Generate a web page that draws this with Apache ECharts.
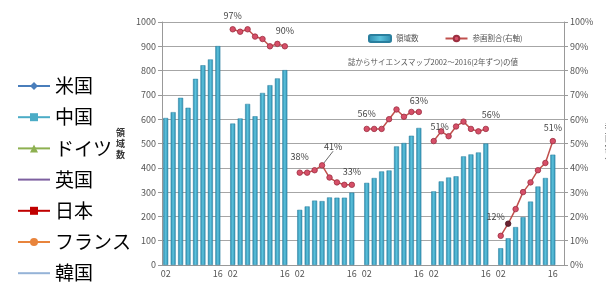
<!DOCTYPE html>
<html>
<head>
<meta charset="utf-8">
<script src="https://cdn.jsdelivr.net/npm/echarts@6/dist/echarts.min.js"></script>
<style>
    html, body { margin: 0; padding: 0; background: #fff; }
    #chart { width: 606px; height: 282px; }
</style>
</head>
<body>
<div id="chart"></div>
<script>
// 年 (2年ずつ)
const years = ['02', '04', '06', '08', '10', '12', '14', '16']

// 領域数 (各グループ)
const cnt1 = [605, 629, 688, 647, 766, 822, 846, 901]
const cnt2 = [582, 603, 663, 612, 708, 740, 768, 802]
const cnt3 = [227, 241, 265, 263, 278, 277, 277, 298]
const cnt4 = [338, 358, 385, 389, 488, 502, 532, 564]
const cnt5 = [303, 344, 360, 365, 447, 455, 463, 500]
const cnt6 = [69, 110, 156, 197, 261, 323, 358, 454]

// 参画割合 (%) 右軸
const pct1 = [null, null, null, null, null, null, null, null]
const pct2 = [97, 96, 97, 94, 93, 90, 91, 90]
const pct3 = [38, 38, 39, 41, 36, 34, 33, 33]
const pct4 = [56, 56, 56, 60, 64, 61, 63, 63]
const pct5 = [51, 55, 53, 57, 59, 56, 55, 56]
const pct6 = [12, 17, 23, 30, 34, 39, 42, 51]

const countries = ['米国', '中国', 'ドイツ', '英国', '日本', 'フランス', '韓国']
const countryColors = ['#4a7ebb', '#4bacc6', '#8db050', '#7d60a0', '#c00000', '#e8843c', '#95b3d7']

const cntGroups = [cnt1, cnt2, cnt3, cnt4, cnt5, cnt6]
const pctGroups = [pct1, pct2, pct3, pct4, pct5, pct6]

// 54 スロット (8本 + 空き1)
const cats = []
const barData = []
const lineData = []
cntGroups.forEach((g, gi) => {
    years.forEach((y, i) => {
        cats.push(gi + '-' + y)
        barData.push(g[i])
        const v = pctGroups[gi][i]
        lineData.push(v == null ? '-' : v)
    })
    cats.push(gi + '-')
    barData.push('-')
    lineData.push('-')
})

// ラベルを出す点とずらし量
const labelOffsets = {
    9: [0, -2], 16: [0, -4],
    18: [0, -4], 21: [11, -7], 25: [0, -2],
    27: [0, -4], 34: [0, 0],
    36: [6, -3], 43: [5, -3],
    45: [-5, -8], 52: [0, -2]
}
const lineItems = lineData.map((v, i) => {
    if (v === '-') return v
    const item = { value: v }
    if (labelOffsets[i]) {
        item.label = { show: true }
        if (i === 21) item.labelLine = { show: true, lineStyle: { color: '#444', width: 0.8 } }
    }
    if (i === 46) item.itemStyle = { color: '#6b2232', borderColor: '#4a1520' }
    return item
})

const symX = 'path://M0,0L10,10M10,0L0,10Z'
const symPlus = 'path://M5,0L5,10M0,5L10,5Z'
const countrySymbols = ['diamond', 'rect', 'triangle', symX, 'rect', 'circle', symPlus]

const FONT = '"Noto Sans CJK JP", sans-serif'

const chart = echarts.init(document.getElementById('chart'))
const countrySeries = countries.map((c, i) => ({
    name: c,
    type: 'line',
    data: [],
    symbol: countrySymbols[i],
    symbolSize: 7,
    itemStyle: { color: countryColors[i], borderColor: countryColors[i] },
    lineStyle: { color: countryColors[i], width: 2.5 }
}))

const option = {
    animation: false,
    textStyle: { fontFamily: FONT },
    title: {
        text: '誌からサイエンスマップ2002～2016(2年ずつ)の値',
        left: 343,
        top: 53,
        textStyle: { fontSize: 7.5, fontWeight: 'normal', color: '#555', fontFamily: FONT }
    },
    legend: [
        {
            data: countries,
            orient: 'vertical',
            left: 17,
            top: 76,
            height: 240,
            padding: 0,
            itemWidth: 32,
            itemHeight: 10,
            itemGap: 11.2,
            selectedMode: false,
            textStyle: { fontSize: 19, lineHeight: 20, color: '#000', fontFamily: FONT }
        },
        {
            data: ['領域数', '参画割合(右軸)'],
            left: 363,
            top: 29,
            itemWidth: 22,
            itemHeight: 7,
            itemGap: 26,
            selectedMode: false,
            textStyle: { fontSize: 7.5, color: '#555', fontFamily: FONT }
        }
    ],
    grid: { left: 162, right: 42, top: 22, bottom: 17, outerBoundsMode: 'none', containLabel: false },
    xAxis: {
        type: 'category',
        data: cats,
        boundaryGap: true,
        axisLine: { lineStyle: { color: '#999' } },
        axisTick: { show: false },
        axisLabel: {
            interval: 0,
            margin: 4,
            fontSize: 9,
            color: '#555',
            formatter: (v) => {
                const y = v.split('-')[1]
                return (y === '02' || y === '16') ? y : ''
            }
        }
    },
    yAxis: [
        {
            type: 'value',
            min: 0,
            max: 1000,
            interval: 100,
            name: '領\n域\n数',
            nameLocation: 'middle',
            nameGap: 37,
            nameRotate: 0,
            nameTextStyle: { fontSize: 9, fontWeight: 'bold', color: '#333', lineHeight: 11 },
            axisLine: { show: true, lineStyle: { color: '#999' } },
            axisTick: { show: true, length: 4, lineStyle: { color: '#999' } },
            axisLabel: { fontSize: 9, color: '#555', margin: 6, formatter: (v) => String(v) },
            splitLine: { lineStyle: { color: '#a6a6a6', width: 1 } }
        },
        {
            type: 'value',
            min: 0,
            max: 100,
            interval: 10,
            position: 'right',
            name: '参\n画\n割\n合',
            nameLocation: 'middle',
            nameGap: 41,
            nameRotate: 0,
            nameTextStyle: { fontSize: 9, fontWeight: 'bold', color: '#333', lineHeight: 11 },
            axisLine: { show: true, lineStyle: { color: '#999' } },
            axisTick: { show: true, length: 4, lineStyle: { color: '#999' } },
            axisLabel: { fontSize: 9, color: '#555', margin: 6, formatter: '{value}%' },
            splitLine: { show: false }
        }
    ],
    series: [
        {
            name: '領域数',
            type: 'bar',
            data: barData,
            barWidth: 5,
            itemStyle: {
                color: new echarts.graphic.LinearGradient(0, 0, 1, 0, [
                    { offset: 0, color: '#2b8aad' },
                    { offset: 0.5, color: '#5cc2dc' },
                    { offset: 1, color: '#2b8aad' }
                ]),
                borderColor: '#2a7f9e',
                borderWidth: 0.5
            }
        },
        {
            name: '参画割合(右軸)',
            type: 'line',
            yAxisIndex: 1,
            data: lineItems,
            connectNulls: false,
            symbol: 'circle',
            symbolSize: 5.5,
            lineStyle: { color: '#c0504d', width: 1.5 },
            itemStyle: { color: '#d64f68', borderColor: '#9c2f40', borderWidth: 0.8 },
            label: {
                show: false,
                position: 'top',
                distance: 4,
                fontSize: 9,
                color: '#444',
                formatter: '{c}%'
            },
            labelLayout: (params) => {
                const off = labelOffsets[params.dataIndex]
                return off ? { dx: off[0], dy: off[1] } : {}
            },
            z: 5
        },
        ...countrySeries
    ]
}
chart.setOption(option)
</script>
</body>
</html>
